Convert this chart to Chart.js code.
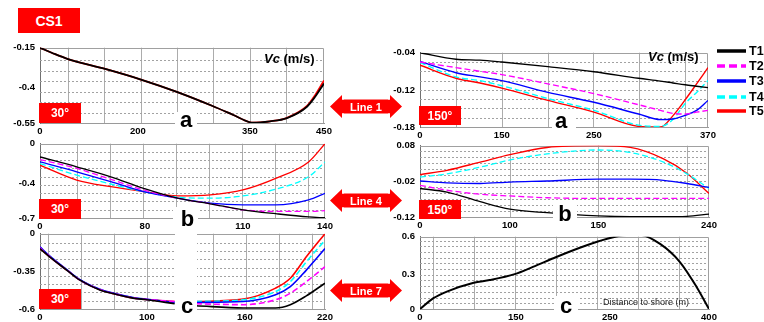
<!DOCTYPE html>
<html>
<head>
<meta charset="utf-8">
<script src="https://cdn.jsdelivr.net/npm/chart.js@4.4.1/dist/chart.umd.min.js"></script>
<style>
    body { margin: 0; width: 764px; height: 322px; overflow: hidden; background: #fff; position: relative;
           font-family: "Liberation Sans", Arial, sans-serif; }
    canvas { position: absolute; z-index: 1; }
    .tag { position: absolute; z-index: 3; background: #ff0000; color: #fff; font-weight: bold;
           display: flex; align-items: center; justify-content: center; }
    .blank { position: absolute; z-index: 2; background: #fff; }
    .letter { position: absolute; z-index: 3; width: 24px; text-align: center; font-weight: bold;
              font-size: 22px; line-height: 22px; color: #000; }
    .vc { position: absolute; z-index: 3; font-weight: bold; font-size: 13px; line-height: 15px; white-space: nowrap; }
    .dist { position: absolute; z-index: 3; font-size: 9px; line-height: 11px; color: #222; white-space: nowrap; }
    .arrow { position: absolute; z-index: 3; }
    .leg { position: absolute; z-index: 3; left: 717px; height: 14px; display: flex; align-items: center; }
    .leg span { font-weight: bold; font-size: 12.5px; margin-left: 3px; }
</style>
</head>
<body>

<div class="tag" style="left:18px;top:8px;width:62px;height:25px;font-size:14px;">CS1</div>

<div class="tag" style="left:39px;top:103px;width:42px;height:20px;font-size:12px;">30°</div>
<div class="tag" style="left:419px;top:106px;width:42px;height:19px;font-size:12px;">150°</div>
<div class="tag" style="left:39px;top:199px;width:42px;height:20px;font-size:12px;">30°</div>
<div class="tag" style="left:419px;top:200px;width:42px;height:19px;font-size:12px;">150°</div>
<div class="tag" style="left:39px;top:289px;width:42px;height:20px;font-size:12px;">30°</div>

<div class="blank" style="left:175px;top:112px;width:22px;height:19px;"></div>
<div class="blank" style="left:552px;top:113px;width:24px;height:18px;"></div>
<div class="blank" style="left:173px;top:207px;width:25px;height:22px;"></div>
<div class="blank" style="left:553px;top:204px;width:24px;height:24px;"></div>
<div class="blank" style="left:175px;top:229px;width:22px;height:89px;"></div>
<div class="blank" style="left:554px;top:296px;width:24px;height:22px;"></div>

<div class="letter" style="left:174px;top:108.7px;">a</div>
<div class="letter" style="left:549px;top:109.7px;">a</div>
<div class="letter" style="left:175.5px;top:208px;">b</div>
<div class="letter" style="left:553px;top:203px;">b</div>
<div class="letter" style="left:175px;top:294.7px;">c</div>
<div class="letter" style="left:554px;top:294.7px;">c</div>

<div class="vc" style="left:264px;top:50.5px;"><i>Vc</i> (m/s)</div>
<div class="vc" style="left:648px;top:49px;"><i>Vc</i> (m/s)</div>
<div class="dist" style="left:603px;top:297px;">Distance to shore (m)</div>

<div id="arrows"></div>
<div id="legend"></div>

<script>
// ---- data ----
const seriesNames = ['T1', 'T2', 'T3', 'T4', 'T5'];

// panel a, 30°
const aLeftX = [0, 25, 57, 133, 205, 252, 300, 327, 350, 354, 377, 400, 427, 438, 450];
const aLeftT1 = [-0.15, -0.183, -0.221, -0.283, -0.351, -0.418, -0.478, -0.515, -0.547, -0.549, -0.543, -0.529, -0.481, -0.439, -0.375];
const aLeftT5 = [-0.15, -0.183, -0.221, -0.283, -0.351, -0.418, -0.478, -0.515, -0.547, -0.549, -0.543, -0.528, -0.478, -0.432, -0.355];
const aLeftXTicks = [0, 200, 350, 450];
const aLeftYTicks = [-0.55, -0.4, -0.15];

// panel a, 150°
const aRightX = [0, 66, 110, 150, 200, 250, 297, 320, 333, 346, 358, 370];
const aRightT1 = [-0.04, -0.054, -0.056, -0.06, -0.07, -0.081, -0.095, -0.101, -0.105, -0.109, -0.112, -0.115];
const aRightT2 = [-0.06, -0.072, -0.08, -0.087, -0.107, -0.126, -0.144, -0.153, -0.158, -0.159, -0.156, -0.153];
const aRightT3 = [-0.059, -0.083, -0.092, -0.1, -0.124, -0.14, -0.159, -0.168, -0.167, -0.161, -0.153, -0.137];
const aRightT4 = [-0.061, -0.092, -0.1, -0.111, -0.134, -0.153, -0.177, -0.179, -0.168, -0.142, -0.124, -0.1];
const aRightT5 = [-0.067, -0.095, -0.105, -0.116, -0.137, -0.156, -0.179, -0.18, -0.162, -0.136, -0.107, -0.072];
const aRightXTicks = [0, 150, 250, 370];
const aRightYTicks = [-0.18, -0.12, -0.04];

// panel b, 30°
const bLeftX = [0, 28, 54, 79, 90, 100, 110, 122, 134, 140];
const bLeftT1 = [-0.134, -0.234, -0.334, -0.443, -0.529, -0.577, -0.629, -0.663, -0.691, -0.698];
const bLeftT2 = [-0.16, -0.25, -0.36, -0.457, -0.529, -0.577, -0.629, -0.643, -0.643, -0.637];
const bLeftT3 = [-0.184, -0.284, -0.384, -0.472, -0.529, -0.571, -0.586, -0.586, -0.543, -0.486];
const bLeftT4 = [-0.2, -0.317, -0.406, -0.472, -0.52, -0.529, -0.509, -0.451, -0.334, -0.184];
const bLeftT5 = [-0.217, -0.367, -0.429, -0.472, -0.509, -0.5, -0.457, -0.35, -0.184, 0];
const bLeftXTicks = [0, 80, 110, 140];
const bLeftYTicks = [-0.7, -0.4, 0];

// panel b, 150°
const bRightX = [0, 30, 67, 100, 121, 150, 176, 203, 222, 240];
const bRightT1 = [-0.04, -0.05, -0.077, -0.098, -0.108, -0.117, -0.119, -0.119, -0.118, -0.112];
const bRightT2 = [-0.031, -0.045, -0.056, -0.061, -0.066, -0.068, -0.068, -0.068, -0.068, -0.068];
const bRightT3 = [-0.019, -0.024, -0.026, -0.022, -0.019, -0.014, -0.014, -0.017, -0.026, -0.037];
const bRightT4 = [-0.008, 0.001, 0.02, 0.04, 0.057, 0.068, 0.061, 0.034, 0.001, -0.04];
const bRightT5 = [-0.001, 0.011, 0.034, 0.055, 0.075, 0.08, 0.075, 0.043, 0.003, -0.054];
const bRightXTicks = [0, 100, 150, 240];
const bRightYTicks = [-0.12, -0.02, 0.08];

// panel c, 30° (the plot is broken between 117 and 130)
const cLeftX = [0, 9, 25, 37, 56, 69, 87, 100, 117, 124, 130, 159, 183, 194, 206, 220];
const cLeftT1 = [-0.137, -0.213, -0.335, -0.405, -0.472, -0.498, -0.527, -0.538, -0.565, null, -0.578, -0.593, -0.593, -0.571, -0.512, -0.427];
const cLeftT2 = [-0.13, -0.21, -0.333, -0.404, -0.47, -0.497, -0.525, -0.536, -0.55, null, -0.565, -0.571, -0.538, -0.494, -0.417, -0.304];
const cLeftT3 = [-0.122, -0.205, -0.33, -0.402, -0.468, -0.495, -0.523, -0.535, -0.556, null, -0.556, -0.55, -0.505, -0.45, -0.335, -0.137];
const cLeftT4 = [-0.128, -0.208, -0.332, -0.403, -0.469, -0.496, -0.524, -0.536, -0.554, null, -0.55, -0.538, -0.483, -0.417, -0.259, -0.061];
const cLeftT5 = [-0.137, -0.213, -0.335, -0.405, -0.471, -0.497, -0.526, -0.537, -0.55, null, -0.55, -0.534, -0.46, -0.394, -0.213, 0];
const cLeftXTicks = [0, 100, 160, 220];
const cLeftYTicks = [-0.6, -0.35, 0];

// panel c, 150°
const cRightX = [0, 21, 42, 84, 109, 148, 168, 193, 218, 238, 265, 294, 326, 356, 381, 400];
const cRightT1 = [0, 0.093, 0.15, 0.226, 0.249, 0.3, 0.358, 0.437, 0.511, 0.563, 0.608, 0.616, 0.542, 0.397, 0.192, 0];
const cRightXTicks = [0, 150, 250, 400];
const cRightYTicks = [0, 0.3, 0.6];

const arrowLabels = ['Line 1', 'Line 4', 'Line 7'];

// ---- styling ----
const seriesColors = ['#000000', '#ff00ff', '#0000ff', '#00ffff', '#ff0000'];
const seriesDash = [[], [6, 3], [], [6, 3], []];
const tickFont = { family: '"Liberation Sans", Arial, sans-serif', size: 9.5, weight: 'bold' };

// axis whose labelled ticks sit at given fractions of the plot, linear between them
class PiecewiseScale extends Chart.LinearScale {
    static id = 'piecewise';
    static defaults = {};

    breaks() {
        const raw = this.chart.config.options.scales[this.id];
        return [raw.breakValues, raw.breakFracs];
    }
    toDecimal(v) {
        const [bv, bf] = this.breaks();
        let i = 1;
        while (i < bv.length - 1 && v > bv[i]) i++;
        return bf[i - 1] + (v - bv[i - 1]) / (bv[i] - bv[i - 1]) * (bf[i] - bf[i - 1]);
    }
    fromDecimal(d) {
        const [bv, bf] = this.breaks();
        let i = 1;
        while (i < bf.length - 1 && d > bf[i]) i++;
        return bv[i - 1] + (d - bf[i - 1]) / (bf[i] - bf[i - 1]) * (bv[i] - bv[i - 1]);
    }
    getPixelForValue(value) {
        if (value === null || value === undefined || isNaN(value)) return NaN;
        return this.getPixelForDecimal(this.toDecimal(value));
    }
    getValueForPixel(pixel) {
        return this.fromDecimal(this.getDecimalForPixel(pixel));
    }
}
Chart.register(PiecewiseScale);

const paneGrid = (g) => ({
    id: 'paneGrid',
    beforeDatasetsDraw(chart) {
        const { ctx, chartArea: a } = chart;
        ctx.save();
        ctx.lineWidth = 1;
        ctx.strokeStyle = '#acacac';
        for (let x = a.left + g.vFirst; x < a.right - 2; x += g.vStep) {
            const px = Math.round(x) + 0.5;
            ctx.beginPath(); ctx.moveTo(px, a.top); ctx.lineTo(px, a.bottom); ctx.stroke();
        }
        ctx.setLineDash([2, 2]);
        ctx.strokeStyle = '#a2a2a2';
        for (let y = a.bottom - g.hStep; y > a.top + 2; y -= g.hStep) {
            const py = Math.round(y) + 0.5;
            ctx.beginPath(); ctx.moveTo(a.left, py); ctx.lineTo(a.right, py); ctx.stroke();
        }
        ctx.setLineDash([]);
        ctx.strokeStyle = '#a0a0a0';
        ctx.beginPath();
        ctx.moveTo(a.left, Math.round(a.top) + 0.5);
        ctx.lineTo(Math.round(a.right) - 0.5, Math.round(a.top) + 0.5);
        ctx.lineTo(Math.round(a.right) - 0.5, a.bottom);
        ctx.stroke();
        ctx.restore();
    }
});

const panels = [
    { rect: [40, 47, 324, 123], x: aLeftX, series: { T1: aLeftT1, T5: aLeftT5 },
      xTicks: aLeftXTicks, xFrac: [0, 0.345, 0.739, 1], yTicks: aLeftYTicks, yFrac: [0, 0.47, 1],
      grid: { vFirst: 28, vStep: 36.3, hStep: 10.5 }, width: 1.8 },
    { rect: [420, 52, 708, 127], x: aRightX,
      series: { T1: aRightT1, T2: aRightT2, T3: aRightT3, T4: aRightT4, T5: aRightT5 },
      xTicks: aRightXTicks, xFrac: [0, 0.284, 0.604, 1], yTicks: aRightYTicks, yFrac: [0, 0.499, 1],
      grid: { vFirst: 36, vStep: 45.8, hStep: 9.3 }, width: 1.4 },
    { rect: [40, 143, 325, 218], x: bLeftX,
      series: { T1: bLeftT1, T2: bLeftT2, T3: bLeftT3, T4: bLeftT4, T5: bLeftT5 },
      xTicks: bLeftXTicks, xFrac: [0, 0.368, 0.712, 1], yTicks: bLeftYTicks, yFrac: [0, 0.467, 1],
      grid: { vFirst: 37, vStep: 33, hStep: 8.3 }, width: 1.3 },
    { rect: [420, 145, 709, 217], x: bRightX,
      series: { T1: bRightT1, T2: bRightT2, T3: bRightT3, T4: bRightT4, T5: bRightT5 },
      xTicks: bRightXTicks, xFrac: [0, 0.311, 0.617, 1], yTicks: bRightYTicks, yFrac: [0, 0.5, 1],
      grid: { vFirst: 90, vStep: 88.3, hStep: 6 }, width: 1.3 },
    { rect: [40, 233, 325, 309], x: cLeftX,
      series: { T1: cLeftT1, T2: cLeftT2, T3: cLeftT3, T4: cLeftT4, T5: cLeftT5 },
      xTicks: cLeftXTicks, xFrac: [0, 0.375, 0.719, 1], yTicks: cLeftYTicks, yFrac: [0, 0.495, 1],
      grid: { vFirst: 8, vStep: 33, hStep: 8.3 }, width: 1.6 },
    { rect: [420, 236, 709, 309], x: cRightX, series: { T1: cRightT1 },
      xTicks: cRightXTicks, xFrac: [0, 0.332, 0.657, 1], yTicks: cRightYTicks, yFrac: [0, 0.482, 1],
      grid: { vFirst: 13.3, vStep: 41, hStep: 5.7 }, width: 2 }
];

const makePanel = (p) => {
    const [l, t, r, b] = p.rect;
    const canvas = document.createElement('canvas');
    canvas.width = r - l + 54;
    canvas.height = b - t + 26;
    canvas.style.left = (l - 40) + 'px';
    canvas.style.top = (t - 10) + 'px';
    document.body.appendChild(canvas);

    const datasets = Object.entries(p.series).map(([name, ys]) => {
        const k = seriesNames.indexOf(name);
        return {
            label: name,
            data: p.x.map((x, i) => ({ x, y: ys[i] })),
            borderColor: seriesColors[k],
            borderDash: seriesDash[k],
            borderWidth: p.width,
            pointRadius: 0,
            fill: false,
            spanGaps: false,
            cubicInterpolationMode: 'monotone'
        };
    });

    const axisTicks = { autoSkip: false, maxRotation: 0, color: '#000', font: tickFont, callback: v => String(v) };

    new Chart(canvas, {
        type: 'line',
        data: { datasets },
        options: {
            responsive: false,
            animation: false,
            events: [],
            devicePixelRatio: 1,
            layout: { padding: { top: 10, right: 14, left: 0, bottom: 0 } },
            plugins: { legend: { display: false }, tooltip: { enabled: false } },
            scales: {
                x: {
                    type: 'piecewise',
                    min: p.xTicks[0], max: p.xTicks[p.xTicks.length - 1],
                    breakValues: p.xTicks, breakFracs: p.xFrac,
                    grid: { display: false, drawTicks: false },
                    border: { display: true, color: '#9a9a9a', width: 1 },
                    ticks: { ...axisTicks, padding: 3 },
                    afterBuildTicks: s => { s.ticks = p.xTicks.map(v => ({ value: v })); },
                    afterFit: s => { s.height = 16; }
                },
                y: {
                    type: 'piecewise',
                    min: p.yTicks[0], max: p.yTicks[p.yTicks.length - 1],
                    breakValues: p.yTicks, breakFracs: p.yFrac,
                    grid: { display: false, drawTicks: false },
                    border: { display: true, color: '#707070', width: 1 },
                    ticks: { ...axisTicks, padding: 5 },
                    afterBuildTicks: s => { s.ticks = p.yTicks.map(v => ({ value: v })); },
                    afterFit: s => { s.width = 40; }
                }
            }
        },
        plugins: [paneGrid(p.grid)]
    });
};

panels.forEach(makePanel);

// double headed "Line n" arrows between the columns
const arrowTops = [95, 189, 279];
arrowLabels.forEach((text, i) => {
    const div = document.createElement('div');
    div.className = 'arrow';
    div.style.left = '330px';
    div.style.top = arrowTops[i] + 'px';
    div.innerHTML =
        '<svg width="72" height="23" xmlns="http://www.w3.org/2000/svg">' +
        '<polygon fill="#ff0000" points="0,11.5 12,0 12,4.5 60,4.5 60,0 72,11.5 60,23 60,18.5 12,18.5 12,23"/>' +
        '<line x1="13" y1="2" x2="13" y2="5" stroke="#fff" stroke-width="1"/>' +
        '<line x1="13" y1="18" x2="13" y2="21" stroke="#fff" stroke-width="1"/>' +
        '<line x1="59" y1="2" x2="59" y2="5" stroke="#fff" stroke-width="1"/>' +
        '<line x1="59" y1="18" x2="59" y2="21" stroke="#fff" stroke-width="1"/>' +
        '<text x="36" y="15.5" fill="#fff" text-anchor="middle" font-family="Liberation Sans, Arial, sans-serif" ' +
        'font-weight="bold" font-size="11">' + text + '</text></svg>';
    document.getElementById('arrows').appendChild(div);
});

// legend
const legendRows = [50.5, 65.5, 81, 96.5, 111];
seriesNames.forEach((name, k) => {
    const row = document.createElement('div');
    row.className = 'leg';
    row.style.top = (legendRows[k] - 7) + 'px';
    const dash = seriesDash[k].length ? ' stroke-dasharray="8,4"' : '';
    row.innerHTML =
        '<svg width="29" height="6" xmlns="http://www.w3.org/2000/svg"><line x1="0" y1="3" x2="29" y2="3" stroke="' +
        seriesColors[k] + '" stroke-width="3.5"' + dash + '/></svg><span>' + name + '</span>';
    document.getElementById('legend').appendChild(row);
});
</script>
</body>
</html>
